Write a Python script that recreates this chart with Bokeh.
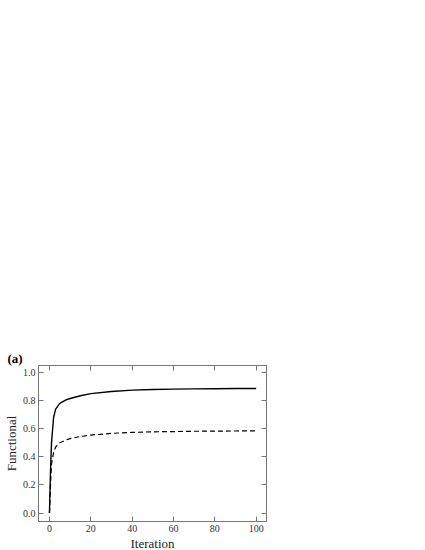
from bokeh.plotting import figure
from bokeh.models import LinearAxis, FixedTicker, Range1d, Title, PrintfTickFormatter
from bokeh.embed import file_html
from bokeh.resources import INLINE

iterations = [0, 0.5, 1, 2, 3, 5, 8, 10, 15, 20, 30, 40, 50, 60, 70, 80, 90, 100]
solid_vals = [0.0, 0.30, 0.50, 0.68, 0.74, 0.78, 0.805, 0.815, 0.835, 0.85, 0.865, 0.875, 0.879, 0.882, 0.884, 0.885, 0.886, 0.886]
dashed_vals = [0.0, 0.20, 0.35, 0.43, 0.47, 0.50, 0.52, 0.53, 0.545, 0.555, 0.567, 0.574, 0.578, 0.58, 0.582, 0.583, 0.584, 0.585]
x_ticks = [0, 20, 40, 60, 80, 100]
y_ticks = [0.0, 0.2, 0.4, 0.6, 0.8, 1.0]

FONT = "Liberation Serif"
GRAY = "#777777"

p = figure(output_backend="svg", toolbar_location=None,
           frame_width=228, frame_height=156,
           min_border_left=0, min_border_right=10, min_border_top=365, min_border_bottom=0,
           x_range=Range1d(-5.3, 105), y_range=Range1d(-0.06, 1.05),
           x_axis_label="Iteration", y_axis_label="Functional")
p.grid.visible = False
p.outline_line_color = GRAY
p.background_fill_color = "white"
p.border_fill_color = "white"

p.line(iterations, solid_vals, line_color="black", line_width=1.4)
p.line(iterations, dashed_vals, line_color="black", line_width=1.2, line_dash="5 3")

for ax, ticks in ((p.xaxis[0], x_ticks), (p.yaxis[0], y_ticks)):
    ax.ticker = FixedTicker(ticks=ticks)
    ax.major_tick_in = 5
    ax.major_tick_out = 0
    ax.minor_tick_line_color = None
    ax.axis_line_color = GRAY
    ax.major_tick_line_color = GRAY
    ax.major_label_text_font = FONT
    ax.major_label_text_font_size = "10px"
    ax.major_label_text_color = "#333333"
    ax.axis_label_text_font = FONT
    ax.axis_label_text_font_size = "13px"
    ax.axis_label_text_font_style = "normal"
    ax.axis_label_text_color = "#222222"
    ax.major_label_standoff = 3
    ax.axis_label_standoff = 1
p.yaxis[0].formatter = PrintfTickFormatter(format="%.1f")

top = LinearAxis(ticker=FixedTicker(ticks=x_ticks), major_label_text_color=None,
                 major_tick_in=5, major_tick_out=0, minor_tick_line_color=None,
                 axis_line_color=GRAY, major_tick_line_color=GRAY, major_label_standoff=0)
right = LinearAxis(ticker=FixedTicker(ticks=y_ticks), major_label_text_color=None,
                   major_tick_in=5, major_tick_out=0, minor_tick_line_color=None,
                   axis_line_color=GRAY, major_tick_line_color=GRAY, major_label_standoff=0)
p.add_layout(top, "above")
p.add_layout(right, "right")

tag = Title(text="(a)", align="left", offset=-31, text_font=FONT, text_font_style="bold",
            text_font_size="13px", text_color="black", standoff=0)
p.add_layout(tag, "above")

open("out.html", "w").write(file_html(p, INLINE))
